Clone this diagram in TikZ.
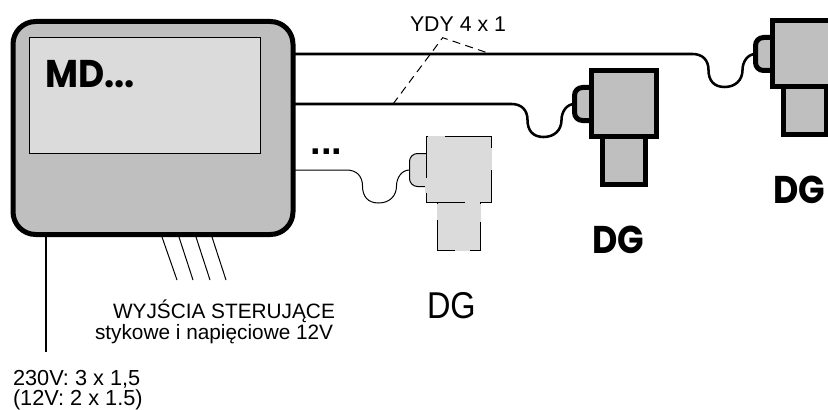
\documentclass[tikz,border=0pt]{standalone}
\usepackage{fontspec}
\setmainfont{Liberation Sans}
\newfontfamily\geo{Poppins}[BoldFont={* Bold}]
\usetikzlibrary{calc}
\colorlet{boxgrey}{black!25}
\colorlet{palegrey}{black!14}
\tikzset{
  x=0.75pt,y=-0.75pt,
  mainbox/.style={draw=black,fill=boxgrey,line width=3.75pt,rounded corners=17pt,minimum width=210pt,minimum height=159.75pt,inner sep=0pt,outer sep=0pt},
  screen/.style={draw=black,fill=palegrey,line width=0.75pt,minimum width=173.25pt,minimum height=86.25pt,inner sep=0pt,outer sep=0pt},
  heavy/.style={line width=3.75pt,draw=black,fill=boxgrey},
  light/.style={line width=0.75pt,draw=black,fill=palegrey},
  wirea/.style={line width=1.9pt,draw=black},
  wireb/.style={line width=0.75pt,draw=black},
  thin wire/.style={line width=0.75pt,draw=black},
  gapmark/.style={line width=1.1pt,draw=palegrey},
  label/.style={inner sep=0pt,outer sep=0pt,anchor=base west},
  brand/.style={inner sep=0pt,outer sep=0pt,anchor=base west,font=\geo\bfseries\fontsize{29}{29}\selectfont},
}
\newcommand{\sensor}[4]{% name, x, y, style
  \coordinate (#1p) at (#2,#3);
  \draw[#4,rounded corners=6pt] ($(#1p)+(17,-16.5)$) -- ($(#1p)+(0,-16.5)$) -- ($(#1p)+(0,16.5)$) -- ($(#1p)+(17,16.5)$);
  \node[#4,draw,inner sep=0pt,outer sep=0pt,minimum width=32.25pt,minimum height=36pt,anchor=north west] (#1low) at ($(#1p)+(28,32.5)$) {};
  \node[#4,draw,inner sep=0pt,outer sep=0pt,minimum width=48.75pt,minimum height=49.5pt,anchor=north west] (#1big) at ($(#1p)+(17,-33.5)$) {};
}
\newcommand{\wirecurve}[1]{($(#1)+(-63,0)$) .. controls ($(#1)+(-53,0)$) and ($(#1)+(-47,6)$) .. ($(#1)+(-47,16)$) .. controls ($(#1)+(-47,26)$) and ($(#1)+(-42,33)$) .. ($(#1)+(-31,33)$) .. controls ($(#1)+(-20,33)$) and ($(#1)+(-13,26)$) .. ($(#1)+(-13,16)$) .. controls ($(#1)+(-13,8)$) and ($(#1)+(-8,0)$) .. (#1)}
\begin{document}
\begin{tikzpicture}
\useasboundingbox (0,0) rectangle (828,410);
\clip (0,0) rectangle (828,410);
\fill[white] (0,0) rectangle (828,410);
\node[mainbox] (md) at (153,128) {};
\node[screen] (scr) at (145,95.5) {};
\node[brand,xscale=0.93] (mdt) at (45,88) {MD...};

\sensor{a}{755.5}{54}{heavy}
\sensor{b}{574.5}{104}{heavy}
\sensor{c}{409.5}{170}{light}

\foreach \xa/\ya/\xb/\yb in {428/136.5/445/136.5, 491.5/148/491.5/170, 426/178/426/193, 465/202/480/202, 437.5/204/437.5/220, 480.5/204/480.5/222, 455/250.5/470/250.5}
  \draw[gapmark] (\xa,\ya) -- (\xb,\yb);

\draw[wirea] (md.east |- ap) -- \wirecurve{ap};
\draw[wirea] (md.east |- bp) -- \wirecurve{bp};
\draw[wireb] (md.east |- cp) -- \wirecurve{cp};

\coordinate (d1) at (393,104);
\coordinate (d2) at (442.7,37.7);
\coordinate (d3) at (488,53);
\draw[line width=0.75pt,dash pattern=on 6pt off 4pt] (d1) -- (d2) -- (d3);

\foreach \i/\a/\b in {1/162/177,2/179/193,3/196/210,4/212/226}{
  \coordinate (o\i) at (\b,280);
  \draw[thin wire] (\a,237) -- (o\i);
}
\coordinate (pw) at (46,352);
\draw[line width=2pt] (md.south -| pw) -- (pw);

\node[label,font=\fontsize{16}{16}\selectfont] (ydy) at (410,32) {YDY 4 x 1};
\node[label,font=\bfseries\fontsize{28.5}{28.5}\selectfont] (dots) at (310.5,154) {...};
\node[label,font=\fontsize{15.6}{15.6}\selectfont] (wy) at (113,318) {WYJŚCIA STERUJĄCE};
\node[label,font=\fontsize{15.6}{15.6}\selectfont] (st) at (95,339) {stykowe i napięciowe 12V};
\node[label,font=\fontsize{16.3}{16.3}\selectfont] (v1) at (13,385) {230V: 3 x 1,5};
\node[label,font=\fontsize{16.3}{16.3}\selectfont] (v2) at (13,405) {(12V: 2 x 1.5)};
\node[label,font=\fontsize{28}{28}\selectfont,xscale=0.87] (dg3) at (427,318) {DG};
\node[brand,xscale=0.9] (dg2) at (592,253) {DG};
\node[brand,xscale=0.9] (dg1) at (773.5,203) {DG};
\end{tikzpicture}
\end{document}
